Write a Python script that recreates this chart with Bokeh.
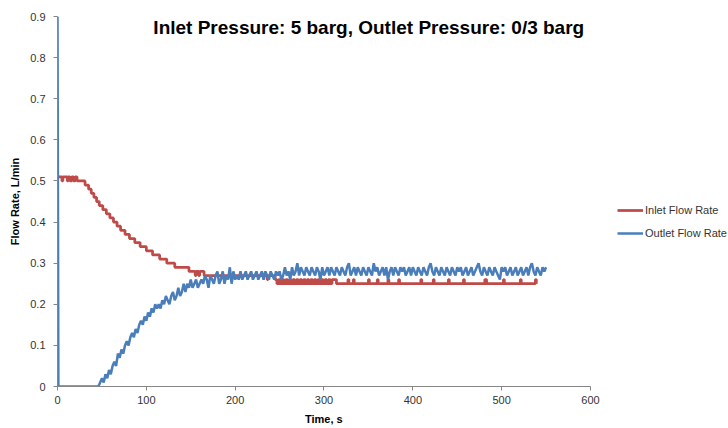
from bokeh.plotting import figure
from bokeh.models import Range1d, FixedTicker, Label, Legend, LegendItem, Title
from bokeh.embed import file_html
from bokeh.resources import INLINE

# ---------------- data ----------------
x_ticks = [0, 100, 200, 300, 400, 500, 600]
y_ticks = [0, 0.1, 0.2, 0.3, 0.4, 0.5, 0.6, 0.7, 0.8, 0.9]
y_tick_labels = ["0", "0.1", "0.2", "0.3", "0.4", "0.5", "0.6", "0.7", "0.8", "0.9"]

# Inlet flow rate: step change points (time s, L/min)
inlet_time = [0, 5, 6, 11, 12, 14, 16, 18, 20, 22, 31, 35, 38, 41, 44, 47, 51, 55, 59,
              63, 67, 71, 76, 81, 87, 93, 100, 107, 115, 123, 132, 148, 155, 156, 159,
              160, 165, 236, 237,
              245, 247, 249, 251, 253, 255, 257, 259, 261, 263, 265, 267, 269, 271, 273,
              275, 277, 279, 281, 283, 285, 287, 289, 291, 293, 295, 297, 299, 301, 303,
              305, 307, 309,
              313, 314, 327, 328, 333, 334, 350, 351, 360, 361, 372, 373, 384, 385,
              409, 410, 423, 424, 440, 441, 457, 458, 481, 483, 502, 503, 521, 522,
              538, 539, 550]
inlet_flow = [0.51, 0.50, 0.51, 0.50, 0.51, 0.50, 0.51, 0.50, 0.51, 0.50, 0.49, 0.48, 0.47,
              0.46, 0.45, 0.44, 0.43, 0.42, 0.41, 0.40, 0.39, 0.38, 0.37, 0.36, 0.35, 0.34,
              0.33, 0.32, 0.31, 0.30, 0.29, 0.28, 0.27, 0.28, 0.27, 0.28, 0.27, 0.26, 0.27,
              0.26, 0.25, 0.26, 0.25, 0.26, 0.25, 0.26, 0.25, 0.26, 0.25, 0.26, 0.25, 0.26,
              0.25, 0.26, 0.25, 0.26, 0.25, 0.26, 0.25, 0.26, 0.25, 0.26, 0.25, 0.26, 0.25,
              0.26, 0.25, 0.26, 0.25, 0.26, 0.25, 0.26,
              0.26, 0.25, 0.26, 0.25, 0.26, 0.25, 0.26, 0.25, 0.26, 0.25, 0.26, 0.25, 0.26,
              0.25, 0.26, 0.25, 0.26, 0.25, 0.26, 0.25, 0.26, 0.25, 0.26, 0.25, 0.26, 0.25,
              0.26, 0.25, 0.26, 0.25]

# Outlet flow rate: initial spike, then samples every 2 s from 44 s to 550 s
outlet_start_time = [0, 1]
outlet_start_flow = [0.9, 0.0]
outlet_sample_time = list(range(44, 551, 2))
outlet_sample_flow = [
    0.00, 0.00, 0.01, 0.02, 0.01, 0.03, 0.02, 0.04, 0.03, 0.05,
    0.06, 0.05, 0.08, 0.07, 0.09, 0.08, 0.10, 0.11, 0.10, 0.12,
    0.13, 0.12, 0.14, 0.13, 0.15, 0.16, 0.15, 0.17, 0.16, 0.18,
    0.17, 0.19, 0.18, 0.20, 0.19, 0.20, 0.19, 0.21, 0.20, 0.22,
    0.21, 0.20, 0.22, 0.23, 0.21, 0.22, 0.24, 0.22, 0.23, 0.25,
    0.23, 0.25, 0.24, 0.26, 0.24, 0.25, 0.26, 0.24, 0.25, 0.26,
    0.25, 0.27, 0.26, 0.24, 0.27, 0.26, 0.25, 0.27, 0.28, 0.25,
    0.26, 0.28, 0.25, 0.27, 0.26, 0.29, 0.25, 0.28, 0.26, 0.27,
    0.26, 0.28, 0.26, 0.27, 0.28, 0.26, 0.27, 0.28, 0.26, 0.27,
    0.28, 0.26, 0.27, 0.28, 0.26, 0.28, 0.27, 0.26, 0.28, 0.27,
    0.26, 0.28, 0.27, 0.28, 0.26, 0.27, 0.29, 0.27, 0.28, 0.26,
    0.29, 0.27, 0.28, 0.30, 0.27, 0.29, 0.28, 0.27, 0.29, 0.28,
    0.27, 0.29, 0.28, 0.27, 0.29, 0.28, 0.26, 0.29, 0.27, 0.28,
    0.29, 0.27, 0.29, 0.28, 0.27, 0.29, 0.28, 0.27, 0.29, 0.28,
    0.27, 0.29, 0.30, 0.27, 0.28, 0.29, 0.27, 0.29, 0.28, 0.27,
    0.29, 0.28, 0.27, 0.29, 0.28, 0.27, 0.30, 0.28, 0.29, 0.27,
    0.28, 0.29, 0.27, 0.29, 0.26, 0.28, 0.29, 0.27, 0.29, 0.28,
    0.27, 0.29, 0.28, 0.29, 0.27, 0.28, 0.29, 0.27, 0.29, 0.28,
    0.27, 0.29, 0.28, 0.27, 0.29, 0.28, 0.27, 0.29, 0.30, 0.28,
    0.27, 0.29, 0.28, 0.27, 0.29, 0.28, 0.27, 0.29, 0.28, 0.27,
    0.29, 0.28, 0.27, 0.29, 0.28, 0.29, 0.27, 0.28, 0.29, 0.27,
    0.28, 0.29, 0.27, 0.28, 0.29, 0.30, 0.28, 0.27, 0.29, 0.28,
    0.27, 0.29, 0.28, 0.27, 0.29, 0.28, 0.27, 0.26, 0.29, 0.28,
    0.29, 0.27, 0.28, 0.29, 0.27, 0.28, 0.29, 0.27, 0.28, 0.29,
    0.27, 0.28, 0.29, 0.27, 0.29, 0.30, 0.28, 0.27, 0.29, 0.28,
    0.27, 0.29, 0.28, 0.29,
]
outlet_time = outlet_start_time + outlet_sample_time
outlet_flow = outlet_start_flow + outlet_sample_flow

title_text = "Inlet Pressure: 5 barg, Outlet Pressure: 0/3 barg"
x_label = "Time, s"
y_label = "Flow Rate, L/min"
series_names = ["Inlet Flow Rate", "Outlet Flow Rate"]

# ---------------- figure ----------------
RED = "#BE4B48"
BLUE = "#4A7EBB"
FONT = "Liberation Sans"

# The frame spans the whole width to the right so the legend (drawn inside the
# frame) is not clipped; the x axis itself is bounded to 0..600.
X_VIEW_END = 755.35

p = figure(width=728, height=428, output_backend="svg", toolbar_location=None,
           x_range=Range1d(0, X_VIEW_END), y_range=Range1d(0, 0.9),
           min_border_left=57, min_border_right=0, min_border_top=16,
           min_border_bottom=41)
p.outline_line_color = None
p.xgrid.visible = False
p.ygrid.visible = False
p.background_fill_color = "white"
p.border_fill_color = "white"

r_in = p.step(inlet_time, inlet_flow, mode="after", line_width=2.75, line_color=RED)
r_out = p.line(outlet_time, outlet_flow, line_width=2.5, line_color=BLUE)

for ax in (p.xaxis[0], p.yaxis[0]):
    ax.axis_line_color = "#868686"
    ax.major_tick_line_color = "#868686"
    ax.minor_tick_line_color = None
    ax.major_tick_in = 0
    ax.major_tick_out = 4
    ax.major_label_text_font = FONT
    ax.major_label_text_font_size = "11px"
    ax.major_label_text_color = "#333333"
    ax.axis_label_text_font = FONT
    ax.axis_label_text_font_size = "11px"
    ax.axis_label_text_font_style = "bold"
    ax.axis_label_text_color = "black"

p.xaxis.ticker = FixedTicker(ticks=x_ticks)
p.xaxis.bounds = (x_ticks[0], x_ticks[-1])
p.yaxis.ticker = FixedTicker(ticks=y_ticks)
p.yaxis.major_label_overrides = {t: s for t, s in zip(y_ticks, y_tick_labels)}
p.yaxis.axis_label = y_label
p.xaxis.major_label_standoff = 5
p.yaxis.major_label_standoff = 8
p.yaxis.axis_label_standoff = 6

# x-axis title centred under the bounded (0..600) axis
p.add_layout(Title(text=x_label, align="left", offset=247.5, standoff=8,
                   text_font=FONT, text_font_size="11px", text_font_style="bold",
                   text_color="black"), "below")

title = Label(x=350.4, y=0.874, text=title_text, text_align="center",
              text_baseline="middle", text_font=FONT, text_font_size="19px",
              text_font_style="bold", text_color="black")
p.add_layout(title)

legend = Legend(items=[LegendItem(label=series_names[0], renderers=[r_in]),
                       LegendItem(label=series_names[1], renderers=[r_out])],
                location=(560, 143), padding=0, margin=0, spacing=3,
                glyph_width=26, glyph_height=20, label_height=20,
                label_standoff=2, label_text_font=FONT,
                label_text_font_size="11px", label_text_color="#333333",
                border_line_color=None, background_fill_alpha=0)
p.add_layout(legend)

open("out.html", "w").write(file_html(p, INLINE))
